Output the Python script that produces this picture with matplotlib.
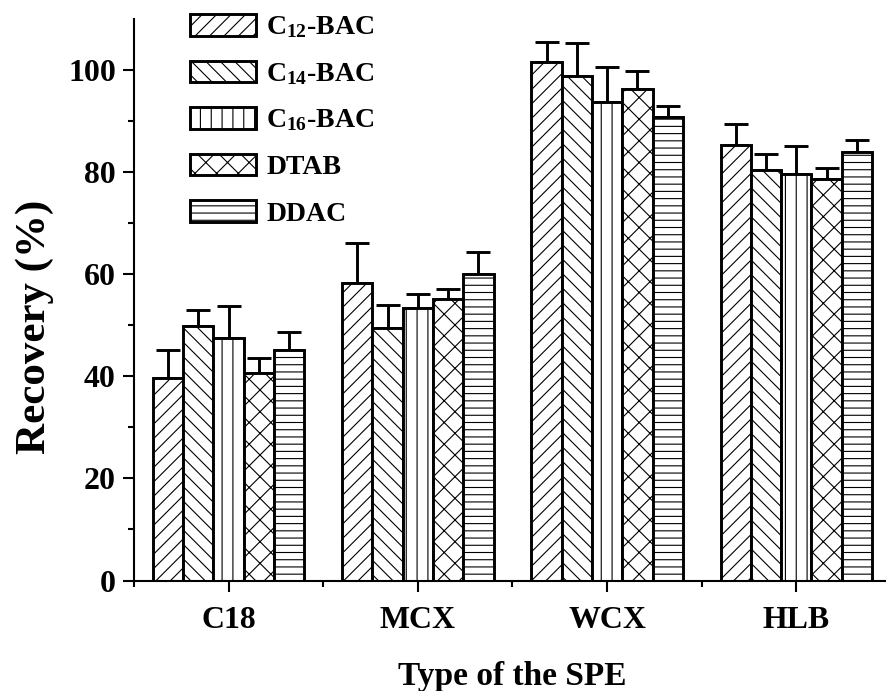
import matplotlib
matplotlib.use("Agg")
import matplotlib.pyplot as plt
import numpy as np

categories = ["C18", "MCX", "WCX", "HLB"]
series_labels = ["C$_{12}$-BAC", "C$_{14}$-BAC", "C$_{16}$-BAC", "DTAB", "DDAC"]

c12_bac = [39.7, 58.2, 101.4, 85.2]
c14_bac = [49.8, 49.4, 98.7, 80.3]
c16_bac = [47.5, 53.3, 93.6, 79.6]
dtab = [40.7, 55.2, 96.3, 78.6]
ddac = [45.2, 60.0, 90.7, 83.8]

c12_err = [5.4, 7.9, 4.1, 4.2]
c14_err = [3.1, 4.5, 6.6, 3.1]
c16_err = [6.3, 2.7, 7.0, 5.5]
dtab_err = [2.8, 1.9, 3.5, 2.1]
ddac_err = [3.4, 4.3, 2.1, 2.5]

values = [c12_bac, c14_bac, c16_bac, dtab, ddac]
errors = [c12_err, c14_err, c16_err, dtab_err, ddac_err]
hatches = ["///", "\\\\\\", "||", "xx", "---"]

DPI = 130
S = 100.0 / DPI  # sizes below were tuned in points at 100 dpi

plt.rcParams["font.family"] = ["Liberation Serif", "DejaVu Serif"]
plt.rcParams["font.weight"] = "bold"
plt.rcParams["mathtext.fontset"] = "custom"
plt.rcParams["mathtext.rm"] = "Liberation Serif:bold"
plt.rcParams["mathtext.it"] = "Liberation Serif:bold"
plt.rcParams["mathtext.bf"] = "Liberation Serif:bold"
plt.rcParams["mathtext.default"] = "rm"
plt.rcParams["hatch.linewidth"] = 0.8 * S

fig = plt.figure(figsize=(886 / DPI, 691 / DPI), dpi=DPI)
ax = fig.add_axes([0.1512, 0.1598, 0.8544, 0.8134])

x = np.arange(1, len(categories) + 1)
width = 0.16
for i, (vals, errs, h, lab) in enumerate(zip(values, errors, hatches, series_labels)):
    pos = x + (i - 2) * width
    ax.bar(pos, vals, width, facecolor="white", edgecolor="black",
           linewidth=2.1 * S, hatch=h, label=lab, zorder=2)
    ax.errorbar(pos, vals, yerr=[np.zeros(len(errs)), errs], fmt="none",
                ecolor="black", elinewidth=2.1 * S, capsize=8.5 * S,
                capthick=2.1 * S, zorder=1)

ax.set_xlim(0.5, 4.5)
ax.set_ylim(0, 110)
ax.set_xticks(x)
ax.set_xticklabels(categories)
ax.set_xticks(list(x + 0.5) + [0.5], minor=True)
ax.set_yticks(np.arange(0, 101, 20))
ax.set_yticks(np.arange(10, 110, 20), minor=True)

for s in ["top", "right"]:
    ax.spines[s].set_visible(False)
for s in ["left", "bottom"]:
    ax.spines[s].set_linewidth(1.5 * S)

ax.tick_params(axis="both", which="major", direction="out", length=8 * S,
               width=1.5 * S, labelsize=23 * S)
ax.tick_params(axis="x", which="major", pad=10 * S)
ax.tick_params(axis="y", which="major", pad=5 * S)
ax.tick_params(axis="both", which="minor", direction="out", length=4 * S,
               width=1.5 * S)
for t in ax.get_xticklabels() + ax.get_yticklabels():
    t.set_fontweight("bold")

ax.set_xlabel("Type of the SPE", fontsize=24 * S, fontweight="bold")
ax.xaxis.label.set_va("baseline")
ax.xaxis.set_label_coords(0.5, -0.186)
ax.set_ylabel("Recovery (%)", fontsize=31 * S, fontweight="bold")
ax.yaxis.label.set_va("baseline")
ax.yaxis.set_label_coords(-0.1176, 0.451)

leg = fig.legend(loc="upper left", bbox_to_anchor=(190 / 886, 1 - 14 / 691),
                 frameon=False, fontsize=20 * S, handlelength=2.38,
                 handleheight=0.83, handletextpad=0.36, labelspacing=0.72,
                 borderpad=0, borderaxespad=0)
for t in leg.get_texts():
    t.set_fontweight("bold")

fig.savefig("out.png", dpi=DPI)
